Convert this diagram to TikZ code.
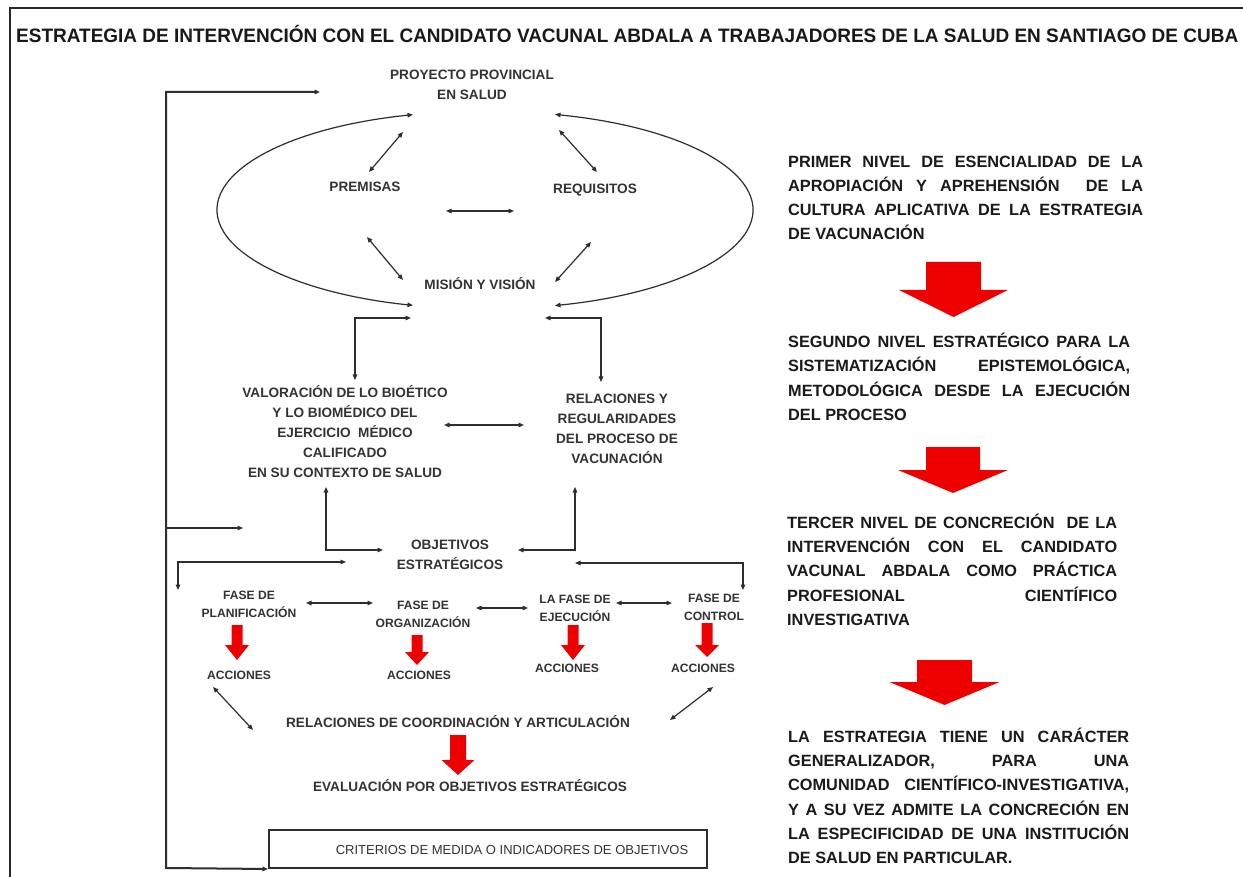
\documentclass[tikz,border=0pt]{standalone}
\usepackage{graphicx}
\usepackage{fontspec}
\setmainfont{Liberation Sans}
\usetikzlibrary{arrows.meta}
\definecolor{ln}{HTML}{2E2E2E}
\definecolor{tx}{HTML}{333333}
\definecolor{rt}{HTML}{1A1A1A}
\definecolor{rd}{HTML}{EE0000}
\tikzset{
  lab/.style={text=tx, font=\fontsize{13.6}{20}\selectfont\bfseries, align=center, inner sep=0pt},
  slab/.style={text=tx, font=\fontsize{12.1}{18}\selectfont\bfseries, align=center, inner sep=0pt},
  rtxt/.style={text=rt, font=\fontsize{16.3}{24}\selectfont\bfseries, anchor=base west, inner sep=0pt},
  con/.style={draw=ln, line width=1.2pt, <->},
  one/.style={draw=ln, line width=1.2pt, ->},
  spine/.style={draw=ln, line width=2pt, <->},
}
\newcommand\jline[4]{\node[rtxt] (#1) at (#2) {\makebox[#3pt][s]{#4}};}
\newcommand\lastline[3]{\node[rtxt] (#1) at (#2) {#3};}
\newcommand\redarrow[6]{\fill[rd] (#1-#5,#2) -- (#1+#5,#2) -- (#1+#5,#3) -- (#1+#6,#3) -- (#1,#4) -- (#1-#6,#3) -- (#1-#5,#3) -- cycle;}
\begin{document}
\begin{tikzpicture}[x=1pt,y=-1pt,>={Triangle[length=5.5pt,width=4.5pt]}]
\useasboundingbox (0,0) rectangle (1243,877);
\fill[white] (0,0) rectangle (1243,877);
\draw[line width=1.5pt, black!85] (10,877) -- (10,8) -- (1243,8);

% title
\node[anchor=base west, inner sep=0pt, font=\fontsize{18}{20}\selectfont\bfseries, text=black!90] (title) at (16,42.5)
  {\resizebox{1222pt}{1.08\height}{ESTRATEGIA DE INTERVENCIÓN CON EL CANDIDATO VACUNAL ABDALA A TRABAJADORES DE LA SALUD EN SANTIAGO DE CUBA}};

% ---------------- left diagram labels
\node[lab] (proj) at (472,85) {PROYECTO PROVINCIAL\\EN SALUD};
\node[lab] (prem) at (365,187) {PREMISAS};
\node[lab] (req) at (595,190) {REQUISITOS};
\node[lab] (mis) at (480,284) {MISIÓN Y VISIÓN};
\node[lab] (val) at (345,432) {VALORACIÓN DE LO BIOÉTICO\\Y LO BIOMÉDICO DEL\\EJERCICIO\ \ MÉDICO\\CALIFICADO\\EN SU CONTEXTO DE SALUD};
\node[lab] (rel) at (617,428.5) {RELACIONES Y\\REGULARIDADES\\DEL PROCESO DE\\VACUNACIÓN};
\node[lab] (obj) at (450,555) {OBJETIVOS\\ESTRATÉGICOS};
\node[slab] (fp) at (249,604) {FASE DE\\PLANIFICACIÓN};
\node[slab] (fo) at (423,614) {FASE DE\\ORGANIZACIÓN};
\node[slab] (fe) at (575,608.5) {LA FASE DE\\EJECUCIÓN};
\node[slab] (fc) at (714,607) {FASE DE\\CONTROL};
\node[slab] (ac1) at (239,675) {ACCIONES};
\node[slab] (ac2) at (419,675) {ACCIONES};
\node[slab] (ac3) at (567,668) {ACCIONES};
\node[slab] (ac4) at (703,668) {ACCIONES};
\node[lab] (coord) at (458,721.5) {RELACIONES DE COORDINACIÓN Y ARTICULACIÓN};
\node[lab] (eval) at (470,786) {EVALUACIÓN POR OBJETIVOS ESTRATÉGICOS};
\node[draw=ln, line width=2pt, minimum width=438pt, minimum height=38pt, inner sep=0pt] (box) at (488,849) {};
\node[font=\fontsize{13}{15}\selectfont, text=tx, inner sep=0pt] (crit) at (512,850) {CRITERIOS DE MEDIDA O INDICADORES DE OBJETIVOS};

% ---------------- connectors
\coordinate (tA) at (320,92);
\coordinate (sp1) at (166,92);
\coordinate (sp2) at (166,868);
\draw[spine] (tA) -- (sp1) -- (sp2) -- (box.south west);
\coordinate (sp3) at (166,528);
\coordinate (sp3e) at (243,528);
\draw[one] (sp3) -- (sp3e);

% ellipse arcs
\coordinate (eTL) at ({485+268*cos(254.42)},{210+99*sin(254.42)});
\coordinate (eTR) at ({485+268*cos(285.14)},{210+99*sin(285.14)});
\draw[con] (eTL) arc[start angle=254.42, end angle=105.58, x radius=268, y radius=99];
\draw[con] (eTR) arc[start angle=-74.86, end angle=74.86, x radius=268, y radius=99];

% inside ellipse
\coordinate (d1a) at (403,132); \coordinate (d1b) at (369,172);
\coordinate (d2a) at (559,130); \coordinate (d2b) at (597,172);
\coordinate (hca) at (446,211); \coordinate (hcb) at (514,211);
\coordinate (d3a) at (367,237); \coordinate (d3b) at (403,280);
\coordinate (d4a) at (591,242); \coordinate (d4b) at (555,282);
\draw[con] (d1a) -- (d1b);
\draw[con] (d2a) -- (d2b);
\draw[con] (hca) -- (hcb);
\draw[con] (d3a) -- (d3b);
\draw[con] (d4a) -- (d4b);

% elbows to middle level
\coordinate (v1a) at (411,318); \coordinate (v1b) at (355,380);
\coordinate (v2a) at (545,318); \coordinate (v2b) at (601,382);
\draw[con] (v1a) -| (v1b);
\draw[con] (v2a) -| (v2b);
\coordinate (mha) at (444,425); \coordinate (mhb) at (524,425);
\draw[draw=ln, line width=2.3pt, <->] (mha) -- (mhb);
\coordinate (w1a) at (326,487); \coordinate (w1b) at (383,550);
\coordinate (w2a) at (575,487); \coordinate (w2b) at (518,550);
\draw[con] (w1a) |- (w1b);
\draw[con] (w2a) |- (w2b);

% phases
\coordinate (p1a) at (178,590); \coordinate (p1b) at (346,562);
\coordinate (p2a) at (575,563); \coordinate (p2b) at (743,590);
\draw[con] (p1a) |- (p1b);
\draw[con] (p2a) -| (p2b);
\coordinate (f1a) at (306,603); \coordinate (f1b) at (373,603);
\coordinate (f2a) at (476,608); \coordinate (f2b) at (528,608);
\coordinate (f3a) at (616,603); \coordinate (f3b) at (672,603);
\draw[con] (f1a) -- (f1b);
\draw[con] (f2a) -- (f2b);
\draw[con] (f3a) -- (f3b);
\coordinate (g1a) at (213,687); \coordinate (g1b) at (253,730);
\coordinate (g2a) at (713,687); \coordinate (g2b) at (670,720);
\draw[con] (g1a) -- (g1b);
\draw[con] (g2a) -- (g2b);

% red arrows (left)
\redarrow{237}{625}{645}{660}{5.5}{12}
\redarrow{417}{635}{652}{665}{5.5}{12}
\redarrow{573}{625}{645}{660}{5.5}{12}
\redarrow{707}{623}{645}{657}{5.5}{12}
\redarrow{458}{735}{760}{775}{8}{16.5}

% ---------------- right column
\jline{r1a}{788,167.5}{355}{PRIMER NIVEL DE ESENCIALIDAD DE LA}
\jline{r1b}{788,191.5}{355}{APROPIACIÓN Y APREHENSIÓN \ DE LA}
\jline{r1c}{788,215.5}{355}{CULTURA APLICATIVA DE LA ESTRATEGIA}
\lastline{r1d}{788,239.5}{DE VACUNACIÓN}
\redarrow{953.5}{262}{290}{317}{27.5}{54.5}

\jline{r2a}{788,347.5}{342}{SEGUNDO NIVEL ESTRATÉGICO PARA LA}
\jline{r2b}{788,372}{342}{SISTEMATIZACIÓN EPISTEMOLÓGICA,}
\jline{r2c}{788,396}{342}{METODOLÓGICA DESDE LA EJECUCIÓN}
\lastline{r2d}{788,420.5}{DEL PROCESO}
\redarrow{953}{447}{470}{493}{27}{55}

\jline{r3a}{787,528.5}{330}{TERCER NIVEL DE CONCRECIÓN \ DE LA}
\jline{r3b}{787,552.5}{330}{INTERVENCIÓN CON EL CANDIDATO}
\jline{r3c}{787,576.5}{330}{VACUNAL ABDALA COMO PRÁCTICA}
\jline{r3d}{787,601}{330}{PROFESIONAL CIENTÍFICO}
\lastline{r3e}{787,625.5}{INVESTIGATIVA}
\redarrow{944.5}{660}{682}{705}{27.5}{55}

\jline{r4a}{788,742.5}{341}{LA ESTRATEGIA TIENE UN CARÁCTER}
\jline{r4b}{788,766.5}{341}{GENERALIZADOR, PARA UNA}
\jline{r4c}{788,790}{341}{COMUNIDAD CIENTÍFICO-INVESTIGATIVA,}
\jline{r4d}{788,815}{341}{Y A SU VEZ ADMITE LA CONCRECIÓN EN}
\jline{r4e}{788,839}{341}{LA ESPECIFICIDAD DE UNA INSTITUCIÓN}
\lastline{r4f}{788,863}{DE SALUD EN PARTICULAR.}
\end{tikzpicture}
\end{document}
